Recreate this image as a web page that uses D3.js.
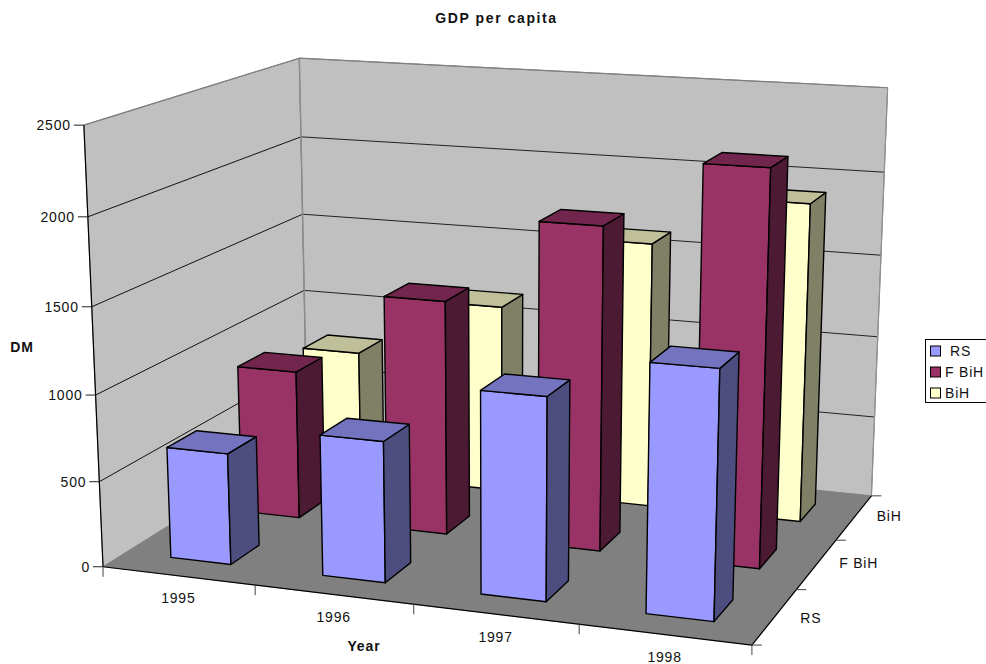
<!DOCTYPE html>
<html>
<head>
<meta charset="utf-8">
<script src="https://cdn.jsdelivr.net/npm/d3@7/dist/d3.min.js"></script>
<style>
  html, body { margin: 0; padding: 0; background: #fff; overflow: hidden; }
  text { font-family: "Liberation Sans", Arial, sans-serif; fill: #111; }
</style>
</head>
<body>
<svg id="chart" width="986" height="664"></svg>
<script>
// Chart data
const years = ["1995", "1996", "1997", "1998"];
const regions = ["RS", "F BiH", "BiH"];
const rsValues = [650, 812, 1150, 1385];
const fBihValues = [895, 1392, 1893, 2275];
const bihValues = [790, 1155, 1610, 1910];
const valueTicks = [0, 500, 1000, 1500, 2000, 2500];
const frontColors = ["#9999ff", "#993366", "#ffffcc"];
const topColors = ["#7373bf", "#73264d", "#bfbf99"];
const sideColors = ["#4d4d80", "#4d1a33", "#808066"];

const seriesValues = [rsValues, fBihValues, bihValues];

// Camera calibration: unit-cube points of the plot box and where they land on the page.
const calibration = [
  [0, 0, 0, 103, 566.5], [0, 0, 1, 83.5, 125.5],
  [0, 1, 0, 307, 440], [0, 1, 1, 299, 58],
  [1, 1, 0, 872, 496], [1, 1, 1, 888, 88],
  [1, 0, 0, 752, 645.5],
  [0.25, 0, 0, 255.3, 585], [0.5, 0, 0, 414, 604], [0.75, 0, 0, 579, 625],
  [1, 1 / 3, 0, 797, 589], [1, 2 / 3, 0, 835, 540],
  [0, 0, 0.8, 88, 217], [0, 0, 0.6, 92, 307], [0, 0, 0.4, 95.5, 395], [0, 0, 0.2, 99, 481],
  [0, 1, 0.8, 301, 137], [0, 1, 0.6, 303, 214], [0, 1, 0.4, 304.5, 290],
  [1, 1, 0.8, 884, 172], [1, 1, 0.6, 881, 255], [1, 1, 0.2, 874, 417]
];

// Least-squares fit of a 3x4 projection matrix (direct linear transform, p34 = 1).
function solveCamera(points) {
  const n = 11;
  const A = d3.range(n).map(() => new Array(n + 1).fill(0));
  const addRow = (row, rhs) => {
    for (let i = 0; i < n; i++) {
      for (let j = 0; j < n; j++) A[i][j] += row[i] * row[j];
      A[i][n] += row[i] * rhs;
    }
  };
  points.forEach(([X, Y, Z, u, v]) => {
    addRow([X, Y, Z, 1, 0, 0, 0, 0, -u * X, -u * Y, -u * Z], u);
    addRow([0, 0, 0, 0, X, Y, Z, 1, -v * X, -v * Y, -v * Z], v);
  });
  for (let c = 0; c < n; c++) {
    let pivot = c;
    for (let r = c + 1; r < n; r++) if (Math.abs(A[r][c]) > Math.abs(A[pivot][c])) pivot = r;
    [A[c], A[pivot]] = [A[pivot], A[c]];
    for (let r = 0; r < n; r++) {
      if (r === c) continue;
      const f = A[r][c] / A[c][c];
      for (let k = c; k <= n; k++) A[r][k] -= f * A[c][k];
    }
  }
  return d3.range(n).map(i => A[i][n] / A[i][i]);
}

const m = solveCamera(calibration);
function project(X, Y, Z) {
  const w = m[8] * X + m[9] * Y + m[10] * Z + 1;
  return [(m[0] * X + m[1] * Y + m[2] * Z + m[3]) / w,
          (m[4] * X + m[5] * Y + m[6] * Z + m[7]) / w];
}

// Scales from data space into the unit cube.
const xBand = d3.scaleBand().domain(years).range([0, 1]).paddingInner(0.6).paddingOuter(0.3);
const depthBand = d3.scaleBand().domain(regions).range([0, 1]).paddingInner(0.6).paddingOuter(0.3);
const xEdge = d3.scaleLinear().domain([0, years.length]).range([0, 1]);
const depthEdge = d3.scaleLinear().domain([0, regions.length]).range([0, 1]);
const valueScale = d3.scaleLinear().domain([0, 2500]).range([0, 1]);

const svg = d3.select("#chart");
const poly = pts => "M" + pts.map(p => p.join(",")).join("L") + "Z";
const face = (pts, fill, stroke, width) => svg.append("path")
  .attr("d", poly(pts.map(p => project(...p))))
  .attr("fill", fill).attr("stroke", stroke).attr("stroke-width", width)
  .attr("stroke-linejoin", "round");
const segment = (a, b, stroke, width) => svg.append("line")
  .attr("x1", a[0]).attr("y1", a[1]).attr("x2", b[0]).attr("y2", b[1])
  .attr("stroke", stroke).attr("stroke-width", width);
const label = (x, y, str, opts = {}) => svg.append("text")
  .attr("x", x).attr("y", y).attr("dy", "0.36em")
  .attr("text-anchor", opts.anchor || "middle")
  .attr("font-size", opts.size || 14)
  .attr("font-weight", opts.weight || "normal")
  .attr("letter-spacing", opts.spacing === undefined ? 0.8 : opts.spacing)
  .text(str);

// Walls and floor
face([[0, 0, 0], [0, 1, 0], [0, 1, 1], [0, 0, 1]], "#c0c0c0", "#808080", 1);
face([[0, 1, 0], [1, 1, 0], [1, 1, 1], [0, 1, 1]], "#c0c0c0", "#808080", 1);
face([[0, 0, 0], [1, 0, 0], [1, 1, 0], [0, 1, 0]], "#808080", "#808080", 0.5);

// Gridlines on both walls
valueTicks.filter(v => v > 0 && v < 2500).forEach(v => {
  const z = valueScale(v);
  segment(project(0, 0, z), project(0, 1, z), "#111", 1);
  segment(project(0, 1, z), project(1, 1, z), "#222", 1);
});
segment(project(0, 1, 0), project(0, 1, 1), "#8c8c8c", 1.5);
segment(project(0, 0, 1), project(0, 1, 1), "#808080", 1.2);
segment(project(0, 1, 1), project(1, 1, 1), "#808080", 1.2);
segment(project(1, 1, 0), project(1, 1, 1), "#909090", 1.2);

// Bars, painted from the back row to the front row
d3.range(regions.length - 1, -1, -1).forEach(s => {
  const y0 = depthBand(regions[s]);
  const y1 = y0 + depthBand.bandwidth();
  years.forEach((yr, i) => {
    const x0 = xBand(yr);
    const x1 = x0 + xBand.bandwidth();
    const z = valueScale(seriesValues[s][i]);
    face([[x0, y0, 0], [x1, y0, 0], [x1, y0, z], [x0, y0, z]], frontColors[s], "#000", 1.4);
    face([[x1, y0, 0], [x1, y1, 0], [x1, y1, z], [x1, y0, z]], sideColors[s], "#000", 1.4);
    face([[x0, y0, z], [x1, y0, z], [x1, y1, z], [x0, y1, z]], topColors[s], "#000", 1.4);
  });
});

// Floor front edges and axis lines
segment(project(0, 0, 0), project(0, 0, 1), "#000", 1.2);
segment(project(0, 0, 0), project(1, 0, 0), "#000", 1.2);
segment(project(1, 0, 0), project(1, 1, 0), "#000", 1.2);

// Value axis
valueTicks.forEach(v => {
  const p = project(0, 0, valueScale(v));
  segment([p[0] - 10, p[1]], p, "#222", 1);
  label(p[0] - 13, p[1], String(v), { anchor: "end" });
});

// Category axis
d3.range(years.length + 1).forEach(i => {
  const p = project(xEdge(i), 0, 0);
  segment(p, [p[0], p[1] + 10], "#444", 1);
});
years.forEach((yr, i) => {
  const p = project(xEdge(i + 0.5), 0, 0);
  label(p[0], p[1] + 22.5, yr);
});

// Depth axis
const depthLabelShift = [36, 42, 35];
d3.range(regions.length + 1).forEach(i => {
  const p = project(1, depthEdge(i), 0);
  segment(p, [p[0] + 10, p[1]], "#444", 1);
});
regions.forEach((r, i) => {
  const p = project(1, depthEdge(i + 0.5), 0);
  label(p[0] + depthLabelShift[i], p[1] - 1 + (i === 0 ? 2 : 0), r);
});

// Titles
label(496.5, 18, "GDP per capita", { weight: "bold", size: 14, spacing: 1.6 });
label(364, 646, "Year", { weight: "bold", size: 14, spacing: 0.9 });
label(22, 347, "DM", { weight: "bold", size: 14, spacing: 0.9 });

// Legend
svg.append("rect").attr("x", 925.5).attr("y", 339.5).attr("width", 70).attr("height", 63)
  .attr("fill", "#fff").attr("stroke", "#000").attr("stroke-width", 1);
const legendY = d3.scalePoint().domain(regions).range([351, 393]);
const legendTextX = [950, 945, 945];
regions.forEach((r, i) => {
  svg.append("rect").attr("x", 930.5).attr("y", legendY(r) - 5).attr("width", 10).attr("height", 10)
    .attr("fill", frontColors[i]).attr("stroke", "#000").attr("stroke-width", 1);
  label(legendTextX[i], legendY(r), r, { anchor: "start" });
});
</script>
</body>
</html>
